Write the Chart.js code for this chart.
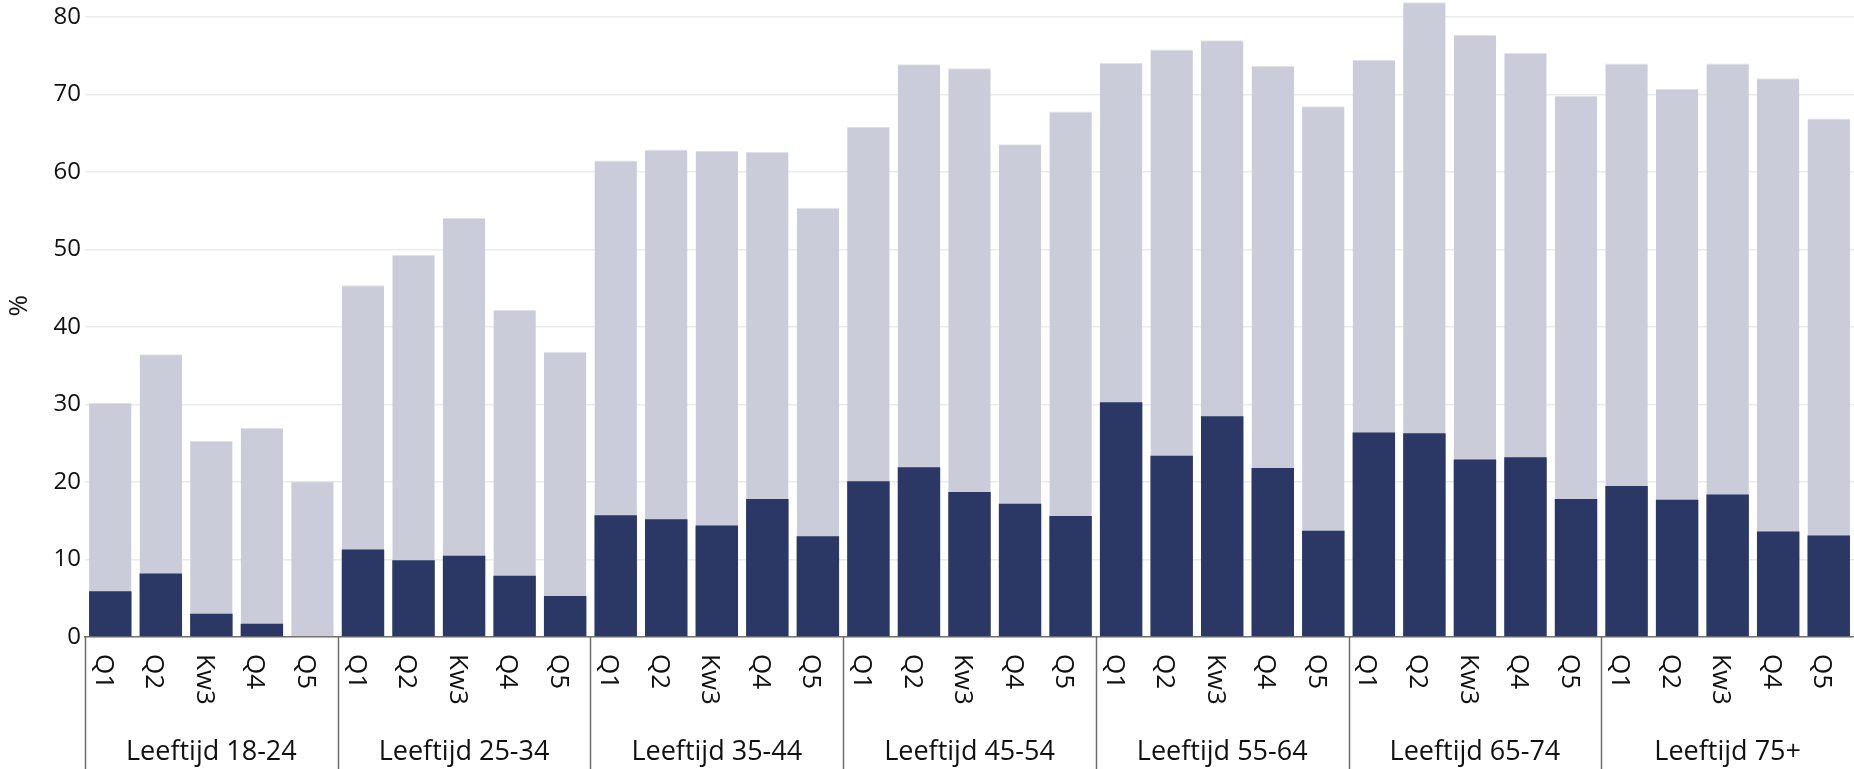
<!DOCTYPE html>
<html>
<head>
<meta charset="utf-8">
<script src="https://cdn.jsdelivr.net/npm/chart.js@4"></script>
<style>
  html, body { margin: 0; padding: 0; background: #ffffff; overflow: hidden; }
  canvas { display: block; }
</style>
</head>
<body>
<canvas id="c" width="1854" height="769"></canvas>
<script>
// ---- data ----
const groups = ['Leeftijd 18-24', 'Leeftijd 25-34', 'Leeftijd 35-44', 'Leeftijd 45-54', 'Leeftijd 55-64', 'Leeftijd 65-74', 'Leeftijd 75+'];
const periods = ['Q1', 'Q2', 'Kw3', 'Q4', 'Q5'];
const totalValues = [
  30.2, 36.5, 25.3, 27.0, 20.1,
  45.4, 49.3, 54.1, 42.2, 36.8,
  61.5, 62.9, 62.7, 62.6, 55.4,
  65.8, 73.9, 73.4, 63.6, 67.8,
  74.1, 75.8, 77.0, 73.7, 68.5,
  74.5, 81.9, 77.7, 75.4, 69.8,
  74.0, 70.7, 74.0, 72.1, 66.9
];
const partValues = [
  5.9, 8.2, 3.0, 1.7, 0,
  11.3, 9.9, 10.5, 7.9, 5.3,
  15.7, 15.2, 14.4, 17.8, 13.0,
  20.1, 21.9, 18.7, 17.2, 15.6,
  30.3, 23.4, 28.5, 21.8, 13.7,
  26.4, 26.3, 22.9, 23.2, 17.8,
  19.5, 17.7, 18.4, 13.6, 13.1
];
const yTicks = [0, 10, 20, 30, 40, 50, 60, 70, 80];
const yTitle = '%';

// ---- derived ----
const labels = groups.flatMap(() => periods.slice());
const FONT = '"Open Sans", "DejaVu Sans", sans-serif';

const groupAxisPlugin = {
  id: 'groupAxis',
  afterDraw(chart) {
    const { ctx, chartArea } = chart;
    const x = chart.scales.x;
    const step = x.getPixelForValue(1) - x.getPixelForValue(0);
    const base = chartArea.bottom;
    ctx.save();
    // y axis title
    ctx.fillStyle = '#111111';
    ctx.font = '26px ' + FONT;
    ctx.save();
    ctx.translate(20, chartArea.top + (chartArea.bottom - chartArea.top) * 0.48);
    ctx.rotate(-Math.PI / 2);
    ctx.textAlign = 'center';
    ctx.textBaseline = 'middle';
    ctx.fillText(yTitle, 0, 0);
    ctx.restore();
    // rotated period labels (reading top to bottom)
    ctx.font = '26px ' + FONT;
    labels.forEach((lab, i) => {
      const px = x.getPixelForValue(i);
      ctx.save();
      ctx.translate(px - 7, base + 17);
      ctx.rotate(Math.PI / 2);
      ctx.textAlign = 'left';
      ctx.textBaseline = 'middle';
      ctx.fillText(lab, 0, 0);
      ctx.restore();
    });
    // group separators
    ctx.strokeStyle = '#6e6e6e';
    ctx.lineWidth = 1.5;
    groups.forEach((g, gi) => {
      const xb = Math.round(x.getPixelForValue(gi * periods.length) - step / 2) + 0.5;
      ctx.beginPath();
      ctx.moveTo(xb, base);
      ctx.lineTo(xb, chart.height);
      ctx.stroke();
    });
    // group labels
    ctx.font = '27px ' + FONT;
    ctx.textAlign = 'center';
    ctx.textBaseline = 'middle';
    groups.forEach((g, gi) => {
      const a = x.getPixelForValue(gi * periods.length);
      const b = x.getPixelForValue(gi * periods.length + periods.length - 1);
      ctx.fillText(g, (a + b) / 2, base + 115);
    });
    ctx.restore();
  }
};

new Chart(document.getElementById('c'), {
  type: 'bar',
  data: {
    labels: labels,
    datasets: [
      {
        label: 'Deel',
        data: partValues,
        backgroundColor: '#2b3764',
        grouped: false,
        order: 0,
        barPercentage: 0.84,
        categoryPercentage: 1.0
      },
      {
        label: 'Totaal',
        data: totalValues,
        backgroundColor: '#cacdd9',
        borderColor: '#dfe1e9',
        borderWidth: { top: 1, left: 0, right: 0, bottom: 0 },
        grouped: false,
        order: 1,
        barPercentage: 0.84,
        categoryPercentage: 1.0
      }
    ]
  },
  options: {
    responsive: false,
    devicePixelRatio: 1,
    animation: false,
    events: [],
    layout: { padding: { left: 0, right: 0, top: 0, bottom: 132 } },
    plugins: {
      legend: { display: false },
      tooltip: { enabled: false },
      title: { display: false }
    },
    scales: {
      x: {
        offset: true,
        grid: { display: false, drawTicks: false },
        border: { display: true, color: '#707070', width: 1.5 },
        ticks: { display: false },
        afterFit(scale) {
          scale.height = 0;
          scale.paddingLeft = 0;
          scale.paddingRight = 0;
        }
      },
      y: {
        min: 0,
        max: 82.2,
        afterBuildTicks(scale) {
          scale.ticks = yTicks.map(v => ({ value: v }));
        },
        afterFit(scale) {
          scale.width = 85;
          scale.paddingTop = 0;
          scale.paddingBottom = 0;
        },
        grid: { color: '#ebebeb', lineWidth: 1.5, drawTicks: false },
        border: { display: false },
        ticks: {
          padding: 4,
          color: '#111111',
          font: { family: FONT, size: 24 }
        }
      }
    }
  },
  plugins: [groupAxisPlugin]
});
</script>
</body>
</html>
